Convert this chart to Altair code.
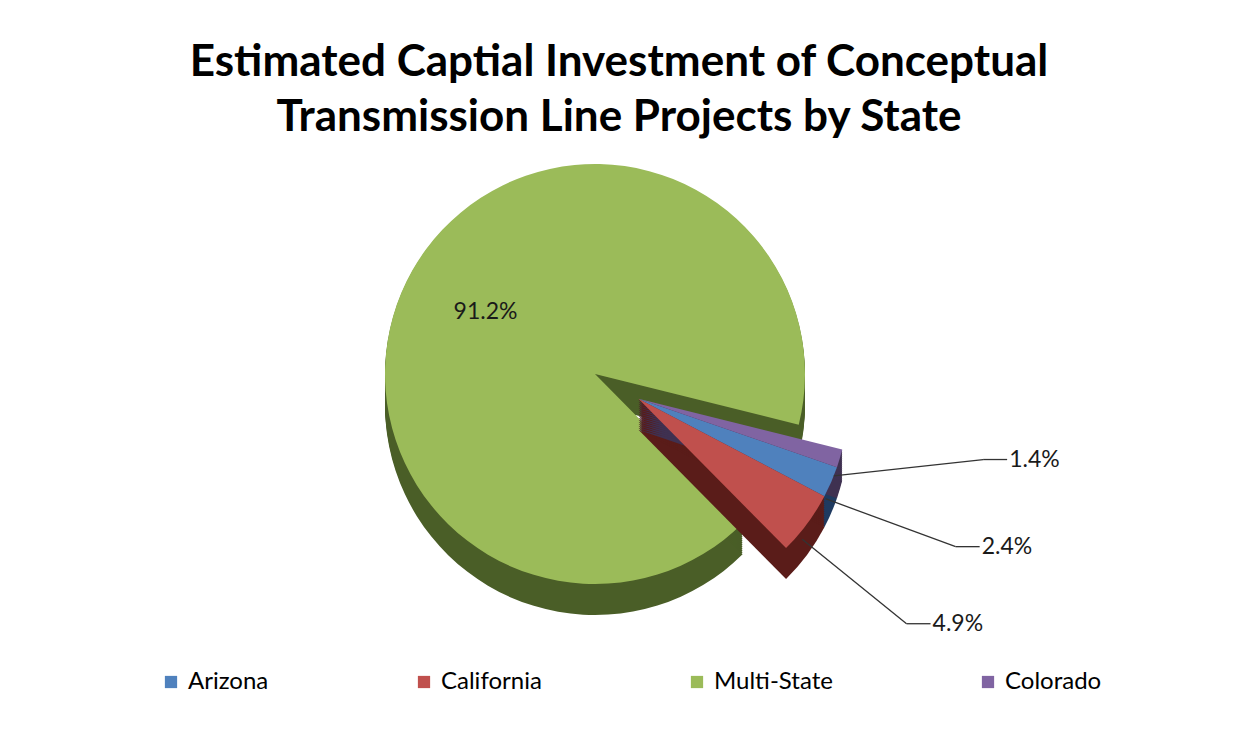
import altair as alt
import pandas as pd

# ---- data ----
STATES = ["Arizona", "California", "Multi-State", "Colorado"]
SHARES = [2.4, 4.9, 91.2, 1.4]

# ---- styles ----
COLORS = ["#4F81BD", "#C0504D", "#9BBB59", "#8064A2"]
SIDE_COLORS = ["#1F3A60", "#5A1C19", "#4A5E27", "#3F3151"]
FONT = "Lato"

df = pd.DataFrame({"state": STATES, "share": SHARES, "idx": list(range(len(STATES)))})

# layout constants (pixels, relative to the plot area)
CX, CY, R, D, EXPLODE = 587, 224, 210, 32, 50
ROT = 1.903          # start angle of the first slice (radians, clockwise from 12 o'clock)
TAU = 6.283185307179586

base = (
    alt.Chart(df)
    .transform_joinaggregate(total="sum(share)")
    .transform_window(cum="sum(share)", sort=[alt.SortField("idx")], frame=[None, 0])
    .transform_calculate(a1=f"{ROT} + {TAU} * datum.cum / datum.total")
    .transform_calculate(a0=f"datum.a1 - {TAU} * datum.share / datum.total")
    .transform_calculate(
        mid="(datum.a0 + datum.a1) / 2",
        label="format(datum.share, '.1f') + '%'",
    )
)

main = base.transform_filter("datum.state == 'Multi-State'").transform_calculate(
    cx=f"{CX}", cy=f"{CY}"
)
small = (
    base.transform_filter("datum.state != 'Multi-State'")
    .transform_calculate(b0=f"datum.a0 % {TAU}", b1=f"datum.a0 % {TAU} + (datum.a1 - datum.a0)")
    .transform_joinaggregate(g0="min(b0)", g1="max(b1)")
    .transform_calculate(gm="(datum.g0 + datum.g1) / 2")
    .transform_calculate(
        cx=f"{CX} + {EXPLODE} * sin(datum.gm)",
        cy=f"{CY} - {EXPLODE} * cos(datum.gm)",
    )
)

theta = alt.Theta("a0:Q", scale=None)


def side(ch):
    return (
        ch.transform_calculate(depths=f"sequence(1, {D + 1}, 2)")
        .transform_flatten(["depths"])
        .transform_calculate(cyd="datum.cy + datum.depths")
        .mark_arc(radius=R)
        .encode(
            theta=theta,
            theta2="a1:Q",
            x=alt.X("cx:Q", scale=None),
            y=alt.Y("cyd:Q", scale=None),
            color=alt.Color("state:N", scale=alt.Scale(domain=STATES, range=SIDE_COLORS), legend=None),
        )
    )


def top(ch, legend):
    return ch.mark_arc(radius=R).encode(
        theta=theta,
        theta2="a1:Q",
        x=alt.X("cx:Q", scale=None),
        y=alt.Y("cy:Q", scale=None),
        color=alt.Color(
            "state:N",
            scale=alt.Scale(domain=STATES, range=COLORS),
            legend=legend,
        ),
    )


legend = alt.Legend(
    title=None,
    orient="none",
    direction="horizontal",
    legendX=151,
    legendY=520,
    columnPadding=143,
    symbolType="square",
    symbolSize=150,
    symbolStrokeWidth=0,
    labelFontSize=24,
    labelFont=FONT,
    labelColor="#000000",
    labelOffset=5,
)

big_label = (
    main.transform_calculate(
        lx=f"datum.cx + {0.6 * R} * sin(datum.mid)",
        ly=f"datum.cy - {0.6 * R} * cos(datum.mid)",
    )
    .mark_text(font=FONT, fontSize=23, color="#1a1a1a")
    .encode(x=alt.X("lx:Q", scale=None), y=alt.Y("ly:Q", scale=None), text="label:N")
)

lab = (
    small.transform_calculate(m360=f"datum.mid % {TAU}")
    .transform_window(rk="rank()", sort=[alt.SortField("m360")])
    .transform_calculate(la="(100 + 15 * (datum.rk - 1)) * PI / 180")
    .transform_calculate(
        sx=f"datum.cx + {0.97 * R} * sin(datum.mid)",
        sy=f"datum.cy - {0.97 * R} * cos(datum.mid) + {0.6 * D}",
        ex=f"datum.cx + {R + 140} * sin(datum.la)",
        ey=f"datum.cy - {R + 140} * cos(datum.la)",
    )
    .transform_calculate(hx="datum.ex + 24", tx="datum.ex + 26")
)

lead1 = lab.mark_rule(color="#333333", strokeWidth=1.3).encode(
    x=alt.X("sx:Q", scale=None), y=alt.Y("sy:Q", scale=None),
    x2="ex:Q", y2="ey:Q",
)
lead2 = lab.mark_rule(color="#333333", strokeWidth=1.3).encode(
    x=alt.X("ex:Q", scale=None), y=alt.Y("ey:Q", scale=None),
    x2="hx:Q", y2="ey:Q",
)
small_labels = lab.mark_text(font=FONT, fontSize=23, color="#1a1a1a", align="left", baseline="middle").encode(
    x=alt.X("tx:Q", scale=None), y=alt.Y("ey:Q", scale=None), text="label:N"
)

chart = (
    alt.layer(
        side(main), top(main, legend), side(small), top(small, None),
        big_label, lead1, lead2, small_labels,
    )
    .resolve_scale(color="independent")
    .properties(
        width=1222,
        height=560,
        padding={"top": 33, "left": 0, "right": 0, "bottom": 0},
        title=alt.TitleParams(
            text=["Estimated Captial Investment of Conceptual", "Transmission Line Projects by State"],
            font=FONT,
            fontSize=44,
            fontWeight="bold",
            lineHeight=55,
            anchor="middle",
            color="#000000",
            offset=10,
        ),
    )
    .configure_view(stroke=None)
)

chart.save("out.html", embed_options={"renderer": "svg", "actions": False})
